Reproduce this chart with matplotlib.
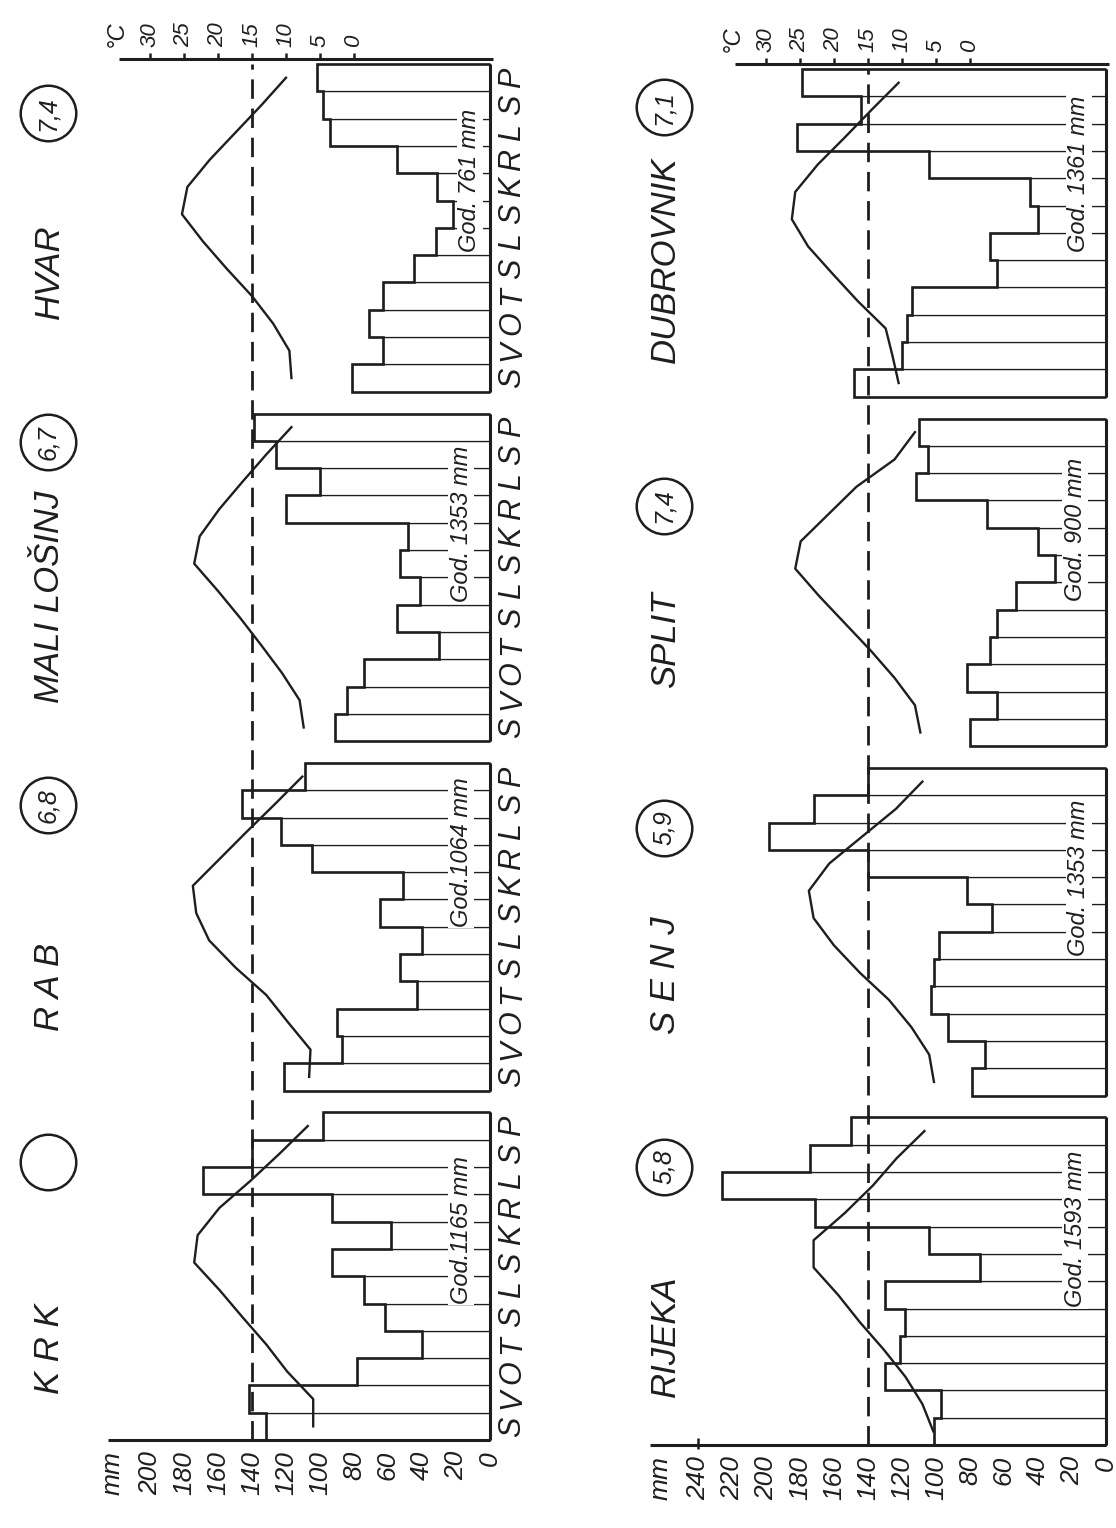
import matplotlib
matplotlib.use("Agg")
import matplotlib.pyplot as plt
import numpy as np

# ---------------- data ----------------
months = ["S", "V", "O", "T", "S", "L", "S", "K", "R", "L", "S", "P"]

# upper row of the sheet (drawn in the left half, bottom -> top)
row1_names = ["K R K", "R A B", "MALI LOŠINJ", "HVAR"]
row1_index = ["", "6,8", "6,7", "7,4"]
row1_totals = ["God.1165 mm", "God.1064 mm", "God. 1353 mm", "God. 761 mm"]

# lower row of the sheet (drawn in the right half, bottom -> top)
row2_names = ["RIJEKA", "S E N J", "SPLIT", "DUBROVNIK"]
row2_index = ["5,8", "5,9", "7,4", "7,1"]
row2_totals = ["God. 1593 mm", "God. 1353 mm", "God. 900 mm", "God. 1361 mm"]

# monthly precipitation (mm)
krk_p = [132, 142, 78, 40, 62, 74, 93, 58, 93, 169, 140, 98]
rab_p = [121, 87, 90, 43, 53, 40, 65, 51, 105, 123, 146, 109]
losinj_p = [91, 84, 74, 30, 55, 41, 53, 48, 120, 100, 126, 139]
hvar_p = [81, 63, 71, 63, 45, 32, 22, 31, 55, 94, 98, 102]
rijeka_p = [101, 97, 130, 121, 118, 130, 74, 104, 171, 226, 174, 150]
senj_p = [79, 71, 93, 103, 101, 98, 67, 82, 140, 198, 172, 140]
split_p = [80, 64, 82, 68, 64, 53, 30, 40, 70, 112, 105, 110]
dubrovnik_p = [148, 120, 117, 114, 64, 68, 40, 45, 104, 182, 144, 179]

# monthly mean temperature (deg C)
krk_t = [6.0, 6.0, 9.8, 12.9, 16.4, 19.8, 23.5, 23.0, 19.8, 15.2, 10.9, 6.8]
rab_t = [6.6, 6.4, 9.7, 12.9, 17.4, 21.3, 23.2, 23.7, 19.7, 15.7, 11.6, 7.6]
losinj_t = [7.4, 8.0, 10.6, 13.6, 16.7, 20.0, 23.5, 22.7, 19.8, 16.4, 12.9, 9.2]
hvar_t = [9.2, 9.5, 11.9, 15.0, 18.7, 22.2, 25.3, 24.5, 21.2, 17.4, 13.6, 10.0]
rijeka_t = [5.4, 7.0, 9.5, 12.7, 16.2, 19.4, 23.0, 23.0, 18.4, 14.3, 10.8, 6.7]
senj_t = [5.3, 6.0, 8.6, 11.9, 16.2, 20.0, 23.0, 23.7, 20.7, 15.8, 10.9, 7.0]
split_t = [7.3, 8.1, 11.1, 14.6, 18.4, 22.2, 25.7, 24.9, 20.8, 16.7, 11.1, 8.1]
dubrovnik_t = [10.5, 11.4, 12.4, 16.5, 20.2, 23.8, 26.2, 25.7, 22.4, 18.4, 14.5, 10.5]

row1_p = [krk_p, rab_p, losinj_p, hvar_p]
row1_t = [krk_t, rab_t, losinj_t, hvar_t]
row2_p = [rijeka_p, senj_p, split_p, dubrovnik_p]
row2_t = [rijeka_t, senj_t, split_t, dubrovnik_t]

mm_ticks_row1 = list(range(0, 201, 20))
mm_ticks_row2 = list(range(0, 241, 20))
degC_ticks = [0, 5, 10, 15, 20, 25, 30]
reference_temp = 15

# ---------------- layout / style ----------------
W, H, DPI = 1116, 1528, 100
INK = "#1e1e1e"
FONT = "Liberation Sans"
PX_PER_MM = 1.7
PX_PER_MONTH = 27.3
GAP = 0.8                       # gap between station panels, in months
MM_AT_0C, MM_PER_C = 80.0, 4.0  # relation of the temperature scale to the mm scale

plt.rcParams["font.family"] = [FONT, "DejaVu Sans"]
fig = plt.figure(figsize=(W / DPI, H / DPI), dpi=DPI)
fig.patch.set_facecolor("white")

rows = [
    dict(x0=0, x1=560, axis_px=490, bottom_px=1440,
         names=row1_names, index=row1_index, totals=row1_totals,
         P=row1_p, T=row1_t, mm_ticks=mm_ticks_row1, mm_line=225, mm_label=222,
         month_labels=True, tick240=False,
         title_rel=[3.35, 3.8, 5.3, 4.4], circle_rel=[10.2, 10.45, 10.95, 10.2],
         god_x=[17, 17, 17, 12], god_y=[5.0, 6.0, 5.1, 5.1]),
    dict(x0=560, x1=1116, axis_px=1106, bottom_px=1445,
         names=row2_names, index=row2_index, totals=row2_totals,
         P=row2_p, T=row2_t, mm_ticks=mm_ticks_row2, mm_line=268, mm_label=262,
         month_labels=False, tick240=True,
         title_rel=[4.0, 4.4, 3.9, 5.0], circle_rel=[10.2, 9.8, 8.8, 10.6],
         god_x=[18, 16, 18, 16], god_y=[5.05, 5.1, 5.3, 5.3]),
]

for r in rows:
    ax = fig.add_axes([r["x0"] / W, 0, (r["x1"] - r["x0"]) / W, 1])
    xl = ((r["axis_px"] - r["x0"]) / PX_PER_MM, -(r["x1"] - r["axis_px"]) / PX_PER_MM)
    yl = ((r["bottom_px"] - H) / PX_PER_MONTH, r["bottom_px"] / PX_PER_MONTH)
    ax.set_xlim(*xl)
    ax.set_ylim(*yl)
    ax.axis("off")
    # temperature scale sharing the same y (months)
    axt = ax.twiny()
    axt.set_xlim((xl[0] - MM_AT_0C) / MM_PER_C, (xl[1] - MM_AT_0C) / MM_PER_C)
    axt.set_ylim(*yl)
    axt.axis("off")

    top = 4 * 12 + 3 * GAP
    for s in range(4):
        base = s * (12 + GAP)
        edges = base + np.arange(13)
        centers = base + np.arange(12) + 0.5
        p = r["P"][s]
        t = r["T"][s]
        ax.barh(centers, p, height=1.0, color="white", edgecolor=INK,
                linewidth=0.9, zorder=1)
        ax.stairs(p, edges, orientation="horizontal", baseline=0,
                  color=INK, linewidth=1.9, zorder=3)
        ax.vlines(0, base, base + 12, color=INK, linewidth=2.2, zorder=3)
        axt.plot(t, centers, color=INK, linewidth=1.7, zorder=5,
                 solid_joinstyle="round")
        # annual total
        ax.text(r["god_x"][s], base + r["god_y"][s], r["totals"][s], rotation=90,
                rotation_mode="anchor", ha="left", va="center", fontsize=17,
                style="italic", color=INK, zorder=2,
                bbox=dict(facecolor="white", edgecolor="none", pad=1.0))
        # station name and index circle
        ax.text(259, base + r["title_rel"][s], r["names"][s], rotation=90,
                ha="center", va="center", fontsize=25, style="italic", color=INK)
        cy = base + r["circle_rel"][s]
        ax.plot([260], [cy], marker="o", markersize=40, markerfacecolor="none",
                markeredgecolor=INK, markeredgewidth=1.8, linestyle="none")
        if r["index"][s]:
            ax.text(260, cy, r["index"][s], rotation=90, ha="center", va="center",
                    fontsize=18, style="italic", color=INK)
        if r["month_labels"]:
            for i, m in enumerate(months):
                ax.text(-13, centers[i], m, rotation=90, ha="center", va="center",
                        fontsize=22, style="italic", color=INK)

    # dashed reference line (15 deg C)
    axt.vlines(reference_temp, 0, top, color=INK, linewidth=2.0,
               linestyles=(0, (7, 3.5)), zorder=4)

    # mm axis along the bottom
    ax.hlines(0, 0, r["mm_line"], color=INK, linewidth=2.2, zorder=3)
    for v in r["mm_ticks"]:
        ax.text(v, -0.4, str(v), rotation=90, rotation_mode="anchor", ha="right",
                va="center", fontsize=19, style="italic", color=INK)
    ax.text(r["mm_label"], -0.4, "mm", rotation=90, rotation_mode="anchor",
            ha="right", va="center", fontsize=19, style="italic", color=INK)
    if r["tick240"]:
        ax.vlines(240, -0.15, 0.25, color=INK, linewidth=1.8)

    # deg C axis along the top
    cline = top + 0.17
    t_left = (218 - MM_AT_0C) / MM_PER_C
    t_right = (-1.5 - MM_AT_0C) / MM_PER_C
    axt.hlines(cline, t_right, t_left, color=INK, linewidth=2.2)
    for tv in degC_ticks:
        axt.vlines(tv, cline, cline + 0.22, color=INK, linewidth=1.8)
        axt.text(tv, cline + 0.45, str(tv), rotation=90, rotation_mode="anchor",
                 ha="left", va="center", fontsize=16, style="italic", color=INK)
    axt.text(35, cline + 0.45, "°C", rotation=90, rotation_mode="anchor",
             ha="left", va="center", fontsize=17, style="italic", color=INK)

fig.savefig("out.png", dpi=DPI, facecolor="white")
